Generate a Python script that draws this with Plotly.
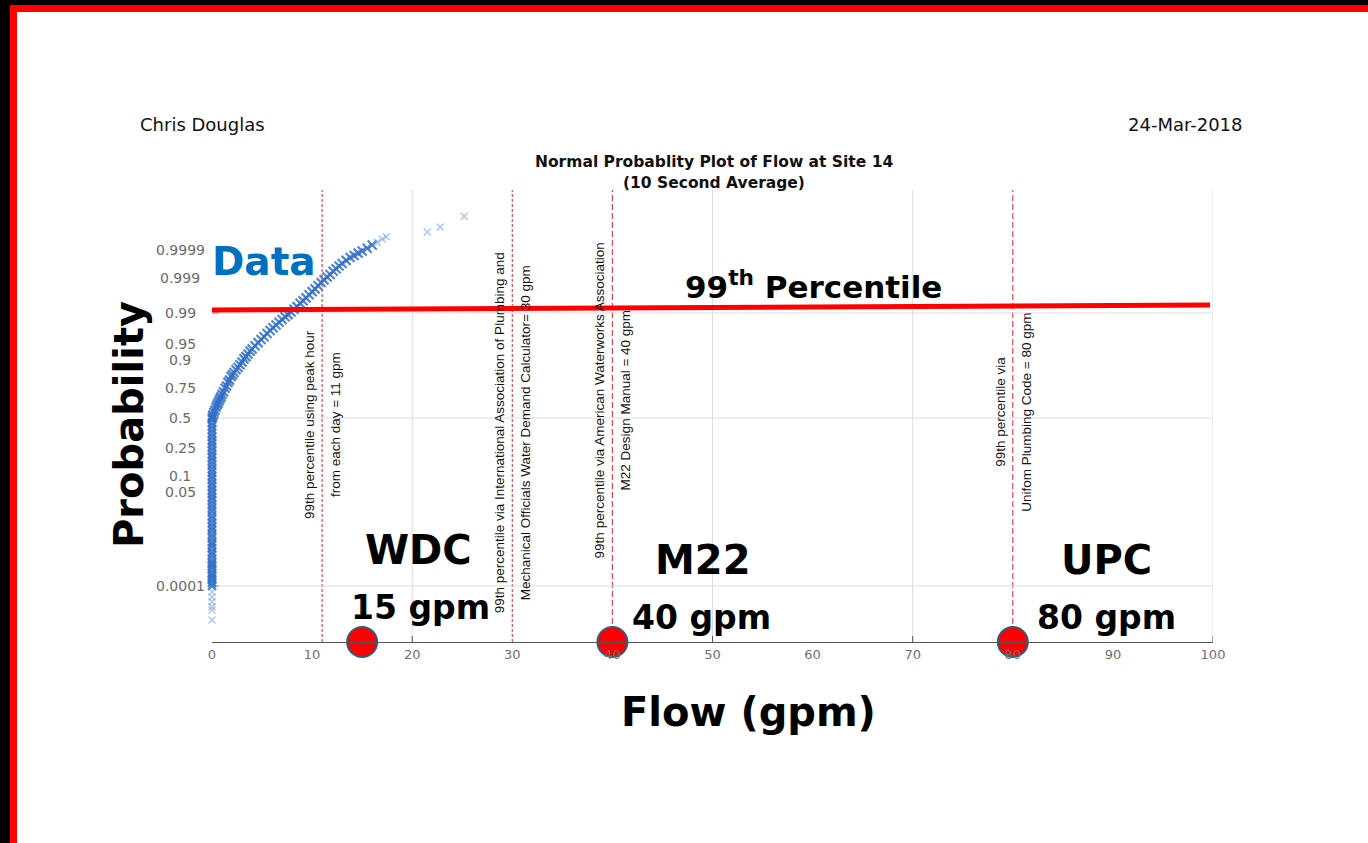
import plotly.graph_objects as go
from statistics import NormalDist

# ---------------------------------------------------------------
# Flow records (10 s averages) and their plotting probabilities
# ---------------------------------------------------------------
# zero-flow records, stacked at 0 gpm
zero_flow_prob = [
    0.0001, 0.00013, 0.00017, 0.0002, 0.00025, 0.0003, 0.0004, 0.0005,
    0.0006, 0.0007, 0.0009, 0.0012, 0.0015, 0.002, 0.0025, 0.003, 0.004,
    0.005, 0.0065, 0.008, 0.01, 0.0125, 0.015, 0.019, 0.023, 0.028, 0.034,
    0.04, 0.047, 0.055, 0.065, 0.075, 0.088, 0.1, 0.115, 0.13, 0.15, 0.17,
    0.19, 0.21, 0.235, 0.26, 0.285, 0.31, 0.34, 0.37, 0.4, 0.43, 0.46,
    0.49, 0.5,
]
# lowest few zero-flow records
tail_prob = [0.000059, 0.000037, 0.0000235, 0.0000146, 0.0000107, 0.0000039]

# non-zero flows (gpm) and their probabilities
curve_flow = [
    0.05, 0.1, 0.2, 0.3, 0.4, 0.5, 0.6, 0.7, 0.8, 0.9, 1.0, 1.15, 1.3, 1.45,
    1.6, 1.75, 1.9, 2.05, 2.2, 2.4, 2.6, 2.8, 3.0, 3.2, 3.4, 3.6, 3.8, 4.0,
    4.3, 4.6, 4.9, 5.2, 5.5, 5.8, 6.1, 6.4, 6.7, 7.0, 7.3, 7.6, 7.9, 8.2,
    8.5, 8.8, 9.1, 9.4, 9.7, 10.0, 10.3, 10.6, 10.9, 11.2, 11.5, 11.8,
    12.1, 12.4, 12.7, 13.0, 13.4, 13.8, 14.2, 14.6, 15.0, 15.5, 16.0,
]
curve_prob = [
    0.5120, 0.5279, 0.5517, 0.5714, 0.5948, 0.6141, 0.6293, 0.6480, 0.6664,
    0.6808, 0.6985, 0.7190, 0.7454, 0.7611, 0.7852, 0.7995, 0.8212, 0.8315,
    0.8438, 0.8577, 0.8686, 0.8810, 0.8925, 0.9049, 0.9131, 0.9222, 0.9306,
    0.9370, 0.9452, 0.9525, 0.9591, 0.9641, 0.9693, 0.9738, 0.9772, 0.9803,
    0.9830, 0.9854, 0.9875, 0.9890, 0.9906, 0.9920, 0.9932, 0.9945, 0.9953,
    0.9961, 0.99683, 0.99744, 0.99788, 0.99831, 0.99865, 0.99889, 0.99910,
    0.99926, 0.99942, 0.99953, 0.99962, 0.99969, 0.99976, 0.99981, 0.99984,
    0.99987, 0.999892, 0.999915, 0.999936,
]
# sparse highest flows
high_flow = [16.5, 17.0, 17.4, 21.5, 22.8, 25.2]
high_prob = [0.999950, 0.999963, 0.999970, 0.999981, 0.9999883, 0.9999961]

# probability axis ticks
prob_ticks = [0.0001, 0.05, 0.1, 0.25, 0.5, 0.75, 0.9, 0.95, 0.99, 0.999, 0.9999]
prob_tick_text = ["0.0001", "0.05", "0.1", "0.25", "0.5", "0.75", "0.9",
                  "0.95", "0.99", "0.999", "0.9999"]
prob_grid = [0.0001, 0.5, 0.99]
flow_ticks = [0, 10, 20, 30, 40, 50, 60, 70, 80, 90, 100]
flow_grid = [20, 50, 70, 100]

# design 99th-percentile flows from the different methods
ref_flows = [11, 30, 40, 80]
ref_text_1 = [
    "99th percentile using peak hour",
    "99th percentile via International Association of Plumbing and",
    "99th percentile via American Waterworks Association",
    "99th percentile via",
]
ref_text_2 = [
    "from each day = 11 gpm",
    "Mechanical Officials Water Demand Calculator= 30 gpm",
    "M22 Design Manual = 40 gpm",
    "Unifom Plumbing Code = 80 gpm",
]
ref_dash = ["3px,2px", "3px,2px", "6px,3px", "6px,3px"]
ref_label_py = [425, 433, 400, 412]

method_flow = [15, 40, 80]
method_code = ["WDC", "M22", "UPC"]
method_text = ["15 gpm", "40 gpm", "80 gpm"]

percentile = 0.99

# ---------------------------------------------------------------
nd = NormalDist()


def zq(p):
    return nd.inv_cdf(p)


# plot-area geometry in pixels
PL, PR, PT, PB = 212, 1213, 190, 642
W, H = 1368, 843
Y_LO, Y_HI = -4.96, 5.05


def fx(px):
    return (px - PL) / (PR - PL)


def fy(py):
    return (PB - py) / (PB - PT)


BLUE = "rgba(52,112,200,0.85)"
BLUE_LIGHT = "rgba(100,150,218,0.55)"
RED_DASH = "#e4474f"

fig = go.Figure()

fig.add_trace(go.Scatter(
    x=[0] * len(zero_flow_prob), y=[zq(p) for p in zero_flow_prob],
    mode="markers", cliponaxis=False,
    marker=dict(symbol="x-thin", size=8, color=BLUE, line=dict(width=2.4, color=BLUE)),
    hoverinfo="skip", showlegend=False))
fig.add_trace(go.Scatter(
    x=[0] * len(tail_prob), y=[zq(p) for p in tail_prob],
    mode="markers", cliponaxis=False,
    marker=dict(symbol="x-thin", size=7, color=BLUE_LIGHT, line=dict(width=1.4, color=BLUE_LIGHT)),
    hoverinfo="skip", showlegend=False))
fig.add_trace(go.Scatter(
    x=curve_flow, y=[zq(p) for p in curve_prob],
    mode="markers", cliponaxis=False,
    marker=dict(symbol="x-thin", size=9, color=BLUE, line=dict(width=2.2, color=BLUE)),
    hoverinfo="skip", showlegend=False))
fig.add_trace(go.Scatter(
    x=high_flow, y=[zq(p) for p in high_prob],
    mode="markers", cliponaxis=False,
    marker=dict(symbol="x-thin", size=7, color=BLUE_LIGHT, line=dict(width=1.5, color=BLUE_LIGHT)),
    hoverinfo="skip", showlegend=False))

# method markers sitting on the flow axis
fig.add_trace(go.Scatter(
    x=method_flow, y=[Y_LO] * len(method_flow), mode="markers",
    marker=dict(size=30, color="#ff0000", line=dict(width=2, color="#2f5d7c")),
    cliponaxis=False, hoverinfo="skip", showlegend=False))

shapes = []
# frame around the slide
shapes += [
    dict(type="rect", xref="paper", yref="paper", x0=fx(0), x1=fx(10), y0=fy(H), y1=fy(0),
         fillcolor="#000000", line=dict(width=0), layer="above"),
    dict(type="rect", xref="paper", yref="paper", x0=fx(0), x1=fx(W), y0=fy(5), y1=fy(0),
         fillcolor="#000000", line=dict(width=0), layer="above"),
    dict(type="rect", xref="paper", yref="paper", x0=fx(10), x1=fx(17), y0=fy(H), y1=fy(5),
         fillcolor="#ff0000", line=dict(width=0), layer="above"),
    dict(type="rect", xref="paper", yref="paper", x0=fx(10), x1=fx(W), y0=fy(12), y1=fy(5),
         fillcolor="#ff0000", line=dict(width=0), layer="above"),
]
# grid
for g in flow_grid:
    shapes.append(dict(type="line", xref="x", yref="paper", x0=g, x1=g, y0=0, y1=1,
                       line=dict(color="#dcdcdc", width=1), layer="below"))
    shapes.append(dict(type="line", xref="x", yref="paper", x0=g, x1=g, y0=0, y1=6 / (PB - PT),
                       line=dict(color="#555555", width=1), layer="below"))
for p in prob_grid:
    shapes.append(dict(type="line", xref="x", yref="y", x0=0, x1=100, y0=zq(p), y1=zq(p),
                       line=dict(color="#dcdcdc", width=1), layer="below"))
    shapes.append(dict(type="line", xref="paper", yref="y", x0=0, x1=7 / (PR - PL),
                       y0=zq(p), y1=zq(p), line=dict(color="#555555", width=1), layer="below"))
# reference flow lines
for f, d in zip(ref_flows, ref_dash):
    shapes.append(dict(type="line", xref="x", yref="paper", x0=f, x1=f, y0=0, y1=1,
                       line=dict(color=RED_DASH, width=1.2, dash=d), layer="below"))
# 99th percentile marker line (hand drawn, rising slightly to the right)
zp = zq(percentile)
px_per_z = (PB - PT) / (Y_HI - Y_LO)
shapes.append(dict(type="line", xref="x", yref="y", x0=0, x1=99.7,
                   y0=zp + 3 / px_per_z, y1=zp + 8 / px_per_z,
                   line=dict(color="#ff0000", width=5), layer="above"))

ann = []
SMALL = "DejaVu Sans"
BIG = "DejaVu Sans"

ann.append(dict(text="Chris Douglas", xref="paper", yref="paper", x=fx(138), y=fy(124),
                xanchor="left", yanchor="middle", showarrow=False,
                font=dict(family=SMALL, size=18, color="#111111")))
ann.append(dict(text="24-Mar-2018", xref="paper", yref="paper", x=fx(1245), y=fy(124),
                xanchor="right", yanchor="middle", showarrow=False,
                font=dict(family=SMALL, size=18, color="#111111")))
ann.append(dict(text="<b>Normal Probablity Plot of Flow at Site 14</b>", xref="paper", yref="paper",
                x=fx(714), y=fy(162), xanchor="center", yanchor="middle", showarrow=False,
                font=dict(family=SMALL, size=15.5, color="#111111")))
ann.append(dict(text="<b>(10 Second Average)</b>", xref="paper", yref="paper",
                x=fx(714), y=fy(183), xanchor="center", yanchor="middle", showarrow=False,
                font=dict(family=SMALL, size=15.5, color="#111111")))

for p, t in zip(prob_ticks, prob_tick_text):
    ann.append(dict(text=t, xref="paper", yref="y", x=fx(180), y=zq(p),
                    xanchor="center", yanchor="middle", showarrow=False,
                    font=dict(family=SMALL, size=14, color="#6a6a6a")))

for f, t1, t2, py in zip(ref_flows, ref_text_1, ref_text_2, ref_label_py):
    for t, dx in ((t1, -13), (t2, 13)):
        ann.append(dict(text=t, xref="x", yref="paper", x=f, y=fy(py), xshift=dx,
                        xanchor="center", yanchor="middle", textangle=-90, showarrow=False,
                        font=dict(family="Liberation Sans", size=13.5, color="#111111")))

ann.append(dict(text="<b>Probability</b>", xref="paper", yref="paper", x=fx(129), y=fy(425),
                xanchor="center", yanchor="middle", textangle=-90, showarrow=False,
                font=dict(family=BIG, size=40, color="#000000")))
ann.append(dict(text="<b>Flow (gpm)</b>", xref="paper", yref="paper", x=fx(748), y=fy(712),
                xanchor="center", yanchor="middle", showarrow=False,
                font=dict(family=BIG, size=40, color="#000000")))
ann.append(dict(text="<b>Data</b>", xref="paper", yref="paper", x=fx(264), y=fy(261),
                xanchor="center", yanchor="middle", showarrow=False,
                font=dict(family=BIG, size=39, color="#0070c0")))
ann.append(dict(text="<b>99<sup>th</sup> Percentile</b>", xref="paper", yref="paper",
                x=fx(813), y=fy(285), xanchor="center", yanchor="middle", showarrow=False,
                font=dict(family=BIG, size=31, color="#000000")))

code_px = [(418, 550), (702, 560), (1106, 560)]
text_px = [(420, 607), (701, 617), (1106, 617)]
for code, txt, (cx, cy), (tx, ty) in zip(method_code, method_text, code_px, text_px):
    ann.append(dict(text=f"<b>{code}</b>", xref="paper", yref="paper", x=fx(cx), y=fy(cy),
                    xanchor="center", yanchor="middle", showarrow=False,
                    font=dict(family=BIG, size=40, color="#000000")))
    ann.append(dict(text=f"<b>{txt}</b>", xref="paper", yref="paper", x=fx(tx), y=fy(ty),
                    xanchor="center", yanchor="middle", showarrow=False,
                    font=dict(family=BIG, size=33, color="#000000")))

fig.update_layout(
    width=W, height=H, autosize=False,
    margin=dict(l=PL, r=W - PR, t=PT, b=H - PB, pad=0),
    paper_bgcolor="#ffffff", plot_bgcolor="#ffffff",
    shapes=shapes, annotations=ann, showlegend=False,
    xaxis=dict(range=[0, 100], tickvals=flow_ticks, ticktext=[str(v) for v in flow_ticks],
               showgrid=False, zeroline=False, showline=True, linecolor="#555555", linewidth=1,
               ticks="", tickfont=dict(family=SMALL, size=13, color="#707070"), fixedrange=True),
    yaxis=dict(range=[Y_LO, Y_HI], showticklabels=False, showgrid=False, zeroline=False,
               showline=False, ticks="", fixedrange=True),
)

fig.write_html("out.html")
